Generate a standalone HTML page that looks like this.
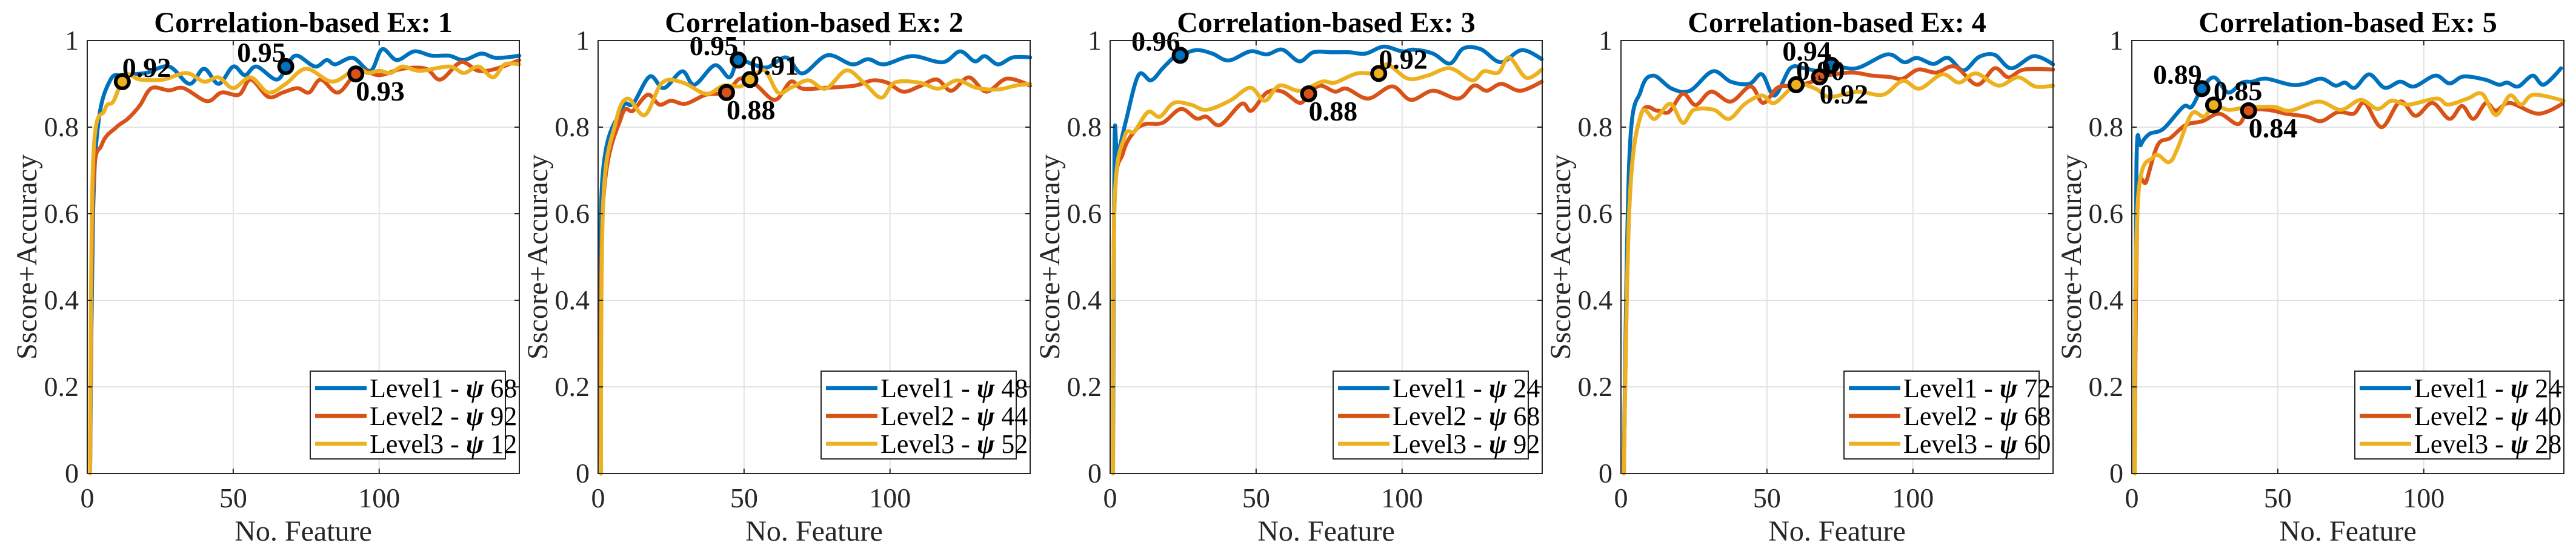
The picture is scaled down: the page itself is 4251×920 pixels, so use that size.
<!DOCTYPE html>
<html><head><meta charset="utf-8"><style>
html,body{margin:0;padding:0;background:#fff;}
svg{display:block;font-family:"Liberation Serif",serif;}
</style></head><body>
<svg id="chart" width="4251" height="920" viewBox="0 0 4251 920" xmlns="http://www.w3.org/2000/svg"></svg>
<script>
// ---- data ----
const panelTitles = ["Correlation-based Ex: 1","Correlation-based Ex: 2","Correlation-based Ex: 3","Correlation-based Ex: 4","Correlation-based Ex: 5"];
const seriesNames = ["Level1","Level2","Level3"];
const xTicks = [0,50,100];
const yTicks = [0,0.2,0.4,0.6,0.8,1];
const yTickLabels = ["0","0.2","0.4","0.6","0.8","1"];
const xTickLabels = ["0","50","100"];

const p1BlueX = [1,2,4,8,12,20,28,35,40,45,50,54,58,65,69,72,78,82,85,91,97,101,106,112,118,124,129,135,140,148];
const p1BlueY = [0.02,0.6,0.82,0.91,0.92,0.925,0.94,0.90,0.935,0.90,0.94,0.92,0.94,0.91,0.95,0.965,0.94,0.955,0.945,0.96,0.93,0.98,0.955,0.975,0.965,0.965,0.955,0.97,0.96,0.965];
const p1RedX = [1,2,5,10,14,18,22,28,33,41,46,52,56,62,67,72,76,80,86,93,100,108,116,121,128,134,140,148];
const p1RedY = [0.02,0.65,0.76,0.80,0.82,0.85,0.89,0.885,0.89,0.86,0.88,0.875,0.91,0.87,0.88,0.89,0.88,0.91,0.88,0.93,0.92,0.935,0.935,0.91,0.95,0.93,0.935,0.955];
const p1YelX = [1,2,6,9,13,18,26,34,40,45,50,56,62,68,75,84,92,96,100,104,108,114,124,129,134,139,143,148];
const p1YelY = [0.0,0.72,0.84,0.86,0.92,0.91,0.91,0.925,0.905,0.915,0.89,0.915,0.88,0.90,0.935,0.905,0.935,0.925,0.93,0.925,0.94,0.93,0.94,0.925,0.94,0.915,0.945,0.945];

const p2BlueX = [1,1.3,8,12,17.7,22.5,28.8,33,40,45,48,53,58,64.5,70,78.5,87,92.5,98,107.5,118,124,129,132.5,137,142,148];
const p2BlueY = [0.02,0.665,0.84,0.854,0.917,0.89,0.929,0.898,0.943,0.915,0.955,0.945,0.938,0.961,0.924,0.966,0.945,0.957,0.945,0.964,0.95,0.975,0.952,0.964,0.945,0.961,0.961];
const p2RedX = [1,1.7,8,12,17,21,25,30,37,44,48.6,54,60.6,66,70,78.5,88,94,99,104.5,110,116,121,127,133,140,148];
const p2RedY = [0.0,0.62,0.824,0.838,0.875,0.852,0.861,0.854,0.875,0.88,0.912,0.898,0.863,0.905,0.889,0.891,0.896,0.908,0.903,0.882,0.894,0.91,0.884,0.915,0.882,0.912,0.896];
const p2YelX = [1,1.7,6,10,16,22,29,37,43,48.6,52,57,61.6,66,72,78,85,91,97,101.6,110,116.6,123,129.5,137,143,148];
const p2YelY = [0.0,0.62,0.81,0.866,0.828,0.903,0.903,0.877,0.896,0.894,0.91,0.931,0.88,0.891,0.908,0.889,0.931,0.903,0.868,0.903,0.903,0.889,0.908,0.891,0.887,0.896,0.9];

const p3BlueX = [1,1.5,2.5,5.4,9.7,14,18,21.8,24,29.5,35,40.6,48,53.7,59,64.8,69.6,76,81.7,87.5,93.7,100,103.9,110.6,116.4,121,127,133.8,141,147.8];
const p3BlueY = [0.02,0.758,0.735,0.814,0.92,0.908,0.936,0.961,0.966,0.978,0.97,0.954,0.975,0.968,0.979,0.952,0.973,0.973,0.973,0.97,0.986,0.975,0.979,0.97,0.947,0.982,0.98,0.95,0.978,0.957];
const p3RedX = [1,1.5,4.4,8.3,12,18,24.2,29.5,33,37.7,45,48.4,53.7,59,65,68,72,77,81,88.4,96.6,103,110.6,119.3,124.6,129,134,140.5,147.8];
const p3RedY = [0.0,0.62,0.74,0.79,0.807,0.81,0.842,0.82,0.824,0.805,0.854,0.838,0.88,0.882,0.856,0.877,0.896,0.882,0.889,0.866,0.894,0.863,0.884,0.866,0.896,0.884,0.9,0.884,0.905];
const p3YelX = [1,1.5,4.9,8.3,13,17,21.8,27.6,33,41,48,53,58,65,72.5,77,84.6,92,95,102,108.7,116.4,124,128,133,136.7,142.5,147.8];
const p3YelY = [0.0,0.62,0.777,0.79,0.835,0.824,0.856,0.852,0.84,0.861,0.891,0.861,0.896,0.884,0.905,0.903,0.924,0.924,0.945,0.912,0.919,0.936,0.908,0.929,0.926,0.961,0.914,0.933];

const p4BlueX = [1,2.9,6.8,11,17.4,23.6,31.4,37.6,44,48.3,52.6,58,62.7,68.5,72,80.6,91.2,97,101.4,107,112,117.3,122.6,128,133.7,141.4,148];
const p4BlueY = [0.02,0.735,0.884,0.919,0.889,0.884,0.929,0.905,0.9,0.922,0.873,0.936,0.936,0.929,0.943,0.936,0.968,0.95,0.96,0.946,0.96,0.931,0.962,0.967,0.936,0.964,0.945];
const p4RedX = [1,2.9,6.8,12.5,16.4,21.2,25.6,30.9,37.6,44.4,48.7,53.6,58.9,64.7,68,78.7,86,92,96.5,101.8,108,114.4,122,128,132.7,138,148];
const p4RedY = [0.0,0.62,0.828,0.838,0.835,0.877,0.851,0.882,0.859,0.894,0.856,0.891,0.896,0.903,0.916,0.926,0.919,0.916,0.912,0.933,0.926,0.94,0.898,0.936,0.915,0.933,0.933];
const p4YelX = [1,2.9,6.8,11.6,16.9,21.2,25,31.8,37,42.5,48.3,52.6,60,66.6,71.4,81,89.8,96.5,102.3,110,115.8,121.6,129.3,136,141.9,148];
const p4YelY = [0.0,0.62,0.828,0.819,0.854,0.81,0.84,0.84,0.819,0.854,0.873,0.856,0.898,0.889,0.87,0.882,0.875,0.907,0.889,0.922,0.903,0.924,0.896,0.915,0.894,0.896];

const p5BlueX = [1,1.6,3.1,6,10.8,17.6,20.5,24,28.2,33,37.8,41.2,46,54.3,59,64.9,69.7,73,76.4,81.3,86.6,91.9,96.7,104,108.8,113.6,120.9,125.7,128.6,132.4,137.3,141.1,147];
const p5BlueY = [0.02,0.717,0.759,0.784,0.796,0.847,0.847,0.889,0.915,0.88,0.903,0.905,0.912,0.898,0.9,0.912,0.896,0.903,0.891,0.922,0.891,0.905,0.894,0.919,0.901,0.917,0.91,0.898,0.903,0.894,0.919,0.898,0.936];
const p5RedX = [1,2,5,8.9,13.2,18.5,24.3,30,36.4,40,46.5,52.8,60,64.9,70.7,76,79.8,85.6,91.9,97.2,103,108.8,113.1,117,121.3,124.7,129.5,139.2,147.4];
const p5RedY = [0.0,0.62,0.675,0.759,0.775,0.805,0.814,0.831,0.807,0.838,0.84,0.831,0.824,0.814,0.835,0.831,0.856,0.8,0.859,0.826,0.856,0.819,0.849,0.819,0.856,0.838,0.856,0.831,0.854];
const p5YelX = [1,2,7.4,12.7,15.6,20.5,24.8,28,33,38.8,48.5,54.2,64,71.6,78.4,84.2,89,94.8,104.4,108.3,115,120,124.7,129.5,133.4,137.7,147.9];
const p5YelY = [0.0,0.62,0.731,0.719,0.75,0.831,0.824,0.851,0.84,0.845,0.847,0.838,0.859,0.84,0.863,0.842,0.861,0.852,0.866,0.852,0.866,0.877,0.828,0.873,0.852,0.875,0.861];

const legendPsi = [[68,92,12],[48,44,52],[24,68,92],[72,68,60],[24,40,28]];
const annotLabels = [["0.95","0.93","0.92"],["0.95","0.88","0.91"],["0.96","0.88","0.92"],["0.94","0.92","0.90"],["0.89","0.84","0.85"]];
const annotPos = [["al","br","ar"],["al","br","ar"],["al","br","ar"],["al","br","ar"],["al","br","ar"]];

const panelData = [
 [[p1BlueX,p1BlueY],[p1RedX,p1RedY],[p1YelX,p1YelY]],
 [[p2BlueX,p2BlueY],[p2RedX,p2RedY],[p2YelX,p2YelY]],
 [[p3BlueX,p3BlueY],[p3RedX,p3RedY],[p3YelX,p3YelY]],
 [[p4BlueX,p4BlueY],[p4RedX,p4RedY],[p4YelX,p4YelY]],
 [[p5BlueX,p5BlueY],[p5RedX,p5RedY],[p5YelX,p5YelY]]
];

// ---- layout ----
const colors = ["#0072BD","#D95319","#EDB120"];
const lefts = [144,987,1832,2675,3518];
const W = 713, TOP = 67, BOT = 782, XMAX = 148;
const NS = "http://www.w3.org/2000/svg";
const svg = document.getElementById("chart");
function mk(tag, attrs, parent){ const e=document.createElementNS(NS,tag); for(const k in attrs) e.setAttribute(k,attrs[k]); (parent||svg).appendChild(e); return e; }
function interp(xs,ys,x){ for(let i=1;i<xs.length;i++){ if(x<=xs[i]){ const t=(x-xs[i-1])/(xs[i]-xs[i-1]); return ys[i-1]+t*(ys[i]-ys[i-1]); } } return ys[ys.length-1]; }
function smoothPath(P){
  let d = "M"+P[0][0].toFixed(1)+","+P[0][1].toFixed(1);
  for(let i=0;i<P.length-1;i++){
    const p0=P[Math.max(0,i-1)], p1=P[i], p2=P[i+1], p3=P[Math.min(P.length-1,i+2)];
    const t = (i===0) ? 0 : 1/6;
    const c1x=p1[0]+(p2[0]-p0[0])*t, c1y=p1[1]+(p2[1]-p0[1])*t;
    const t2 = (i+1===P.length-1) ? 0 : 1/6;
    const c2x=p2[0]-(p3[0]-p1[0])*t2, c2y=p2[1]-(p3[1]-p1[1])*t2;
    d += " C"+c1x.toFixed(1)+","+c1y.toFixed(1)+" "+c2x.toFixed(1)+","+c2y.toFixed(1)+" "+p2[0].toFixed(1)+","+p2[1].toFixed(1);
  }
  return d;
}

panelTitles.forEach((title,p)=>{
  const L = lefts[p];
  const sx = v => L + v/XMAX*W;
  const sy = v => BOT - v*(BOT-TOP);
  const g = mk("g",{});
  
  
  xTicks.forEach(t=>{ if(t>0){ const l=mk("line",{x1:sx(t),x2:sx(t),y1:TOP,y2:BOT,stroke:"#e3e3e3","stroke-width":2},g);
      }});
  yTicks.forEach(t=>{ if(t>0&&t<1){ const l=mk("line",{x1:L,x2:L+W,y1:sy(t),y2:sy(t),stroke:"#e3e3e3","stroke-width":2},g);
      }});
  panelData[p].forEach((s,k)=>{
    const P = s[0].map((x,i)=>[sx(x), sy(s[1][i])]);
    const pl = mk("path",{d:smoothPath(P),fill:"none",stroke:colors[k],"stroke-width":6.5,"stroke-linejoin":"round","stroke-linecap":"round"},g);
    
    
  });
  panelData[p].forEach((s,k)=>{
    const xv = legendPsi[p][k];
    const cx = sx(xv), cy = sy(interp(s[0],s[1],xv));
    const c = mk("circle",{cx:cx,cy:cy,r:11,fill:colors[k],stroke:"#000","stroke-width":6},g);
    
    
    const pos = annotPos[p][k];
    let tx=cx, ty=cy-8, anchor="start";
    if(pos==="al"){ anchor="end"; ty=cy-8; }
    if(pos==="br"){ ty=cy+44; }
    const t = mk("text",{x:tx,y:ty,"text-anchor":anchor,"font-size":46,"font-weight":"bold",fill:"#000"},g);
    t.textContent = annotLabels[p][k];
    
    
  });
  const box = mk("rect",{x:L,y:TOP,width:W,height:BOT-TOP,fill:"none",stroke:"#262626","stroke-width":2},g);
  
  
  xTicks.forEach((t,i)=>{
    mk("line",{x1:sx(t),x2:sx(t),y1:BOT,y2:BOT-8,stroke:"#262626","stroke-width":2},g);
    mk("line",{x1:sx(t),x2:sx(t),y1:TOP,y2:TOP+8,stroke:"#262626","stroke-width":2},g);
    const tl = mk("text",{x:sx(t),y:838,"text-anchor":"middle","font-size":46,fill:"#262626"},g);
    tl.textContent = xTickLabels[i];
    
    
  });
  yTicks.forEach((t,i)=>{
    mk("line",{x1:L,x2:L+8,y1:sy(t),y2:sy(t),stroke:"#262626","stroke-width":2},g);
    mk("line",{x1:L+W,x2:L+W-8,y1:sy(t),y2:sy(t),stroke:"#262626","stroke-width":2},g);
    const tl = mk("text",{x:L-14,y:sy(t)+15,"text-anchor":"end","font-size":46,fill:"#262626"},g);
    tl.textContent = yTickLabels[i];
    
    
  });
  const tt = mk("text",{x:L+W/2,y:53,"text-anchor":"middle","font-size":48,"font-weight":"bold",fill:"#000"},g);
  tt.textContent = title;
  
  
  const xl = mk("text",{x:L+W/2,y:893,"text-anchor":"middle","font-size":48,fill:"#262626"},g);
  xl.textContent = "No. Feature";
  
  
  const yl = mk("text",{x:0,y:0,"text-anchor":"middle","font-size":48,fill:"#262626",transform:"translate("+(L-84)+","+((TOP+BOT)/2)+") rotate(-90)"},g);
  yl.textContent = "Sscore+Accuracy";
  
  
  const lg = mk("g",{},g);
  
  
  mk("rect",{x:L+368,y:613,width:322,height:145,fill:"#fff",stroke:"#262626","stroke-width":2},lg);
  seriesNames.forEach((n,k)=>{
    const y = 641 + k*46;
    const ln = mk("line",{x1:L+376,x2:L+461,y1:y,y2:y,stroke:colors[k],"stroke-width":6.5},lg);
    
    
    const tx = mk("text",{x:L+466,y:y+15,"font-size":44,fill:"#000"},lg);
    
    
    tx.appendChild(document.createTextNode(n+" - "));
    const ps = mk("tspan",{"font-style":"italic","font-weight":"bold"},tx);
    ps.textContent = "ψ";
    tx.appendChild(document.createTextNode(" "+legendPsi[p][k]));
  });
});
</script>
</body></html>
